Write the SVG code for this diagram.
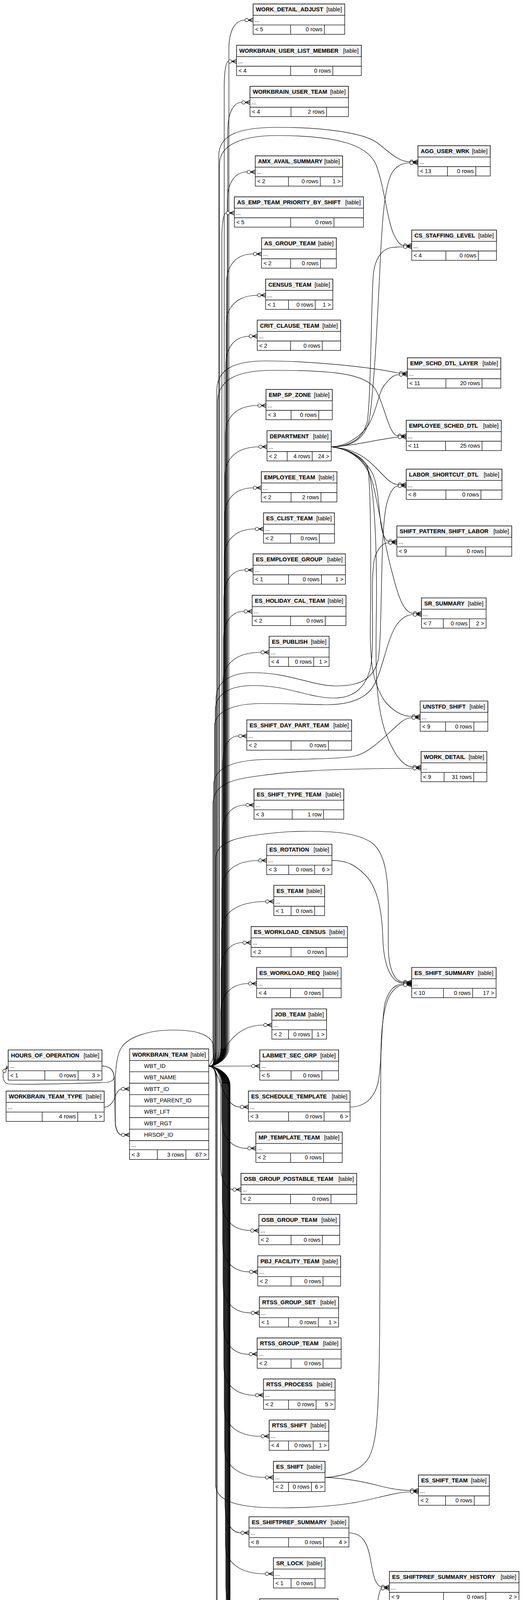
<svg xmlns="http://www.w3.org/2000/svg" width="1344" height="6052" viewBox="0 0 1344 6052">
<style>
.bx{fill:#fff;stroke:#000;stroke-width:1.3}
.hd{fill:#f4f4f4;stroke:#000;stroke-width:1.3}
.ln{fill:none;stroke:#000;stroke-width:1.3}
.e path{fill:none;stroke:#000;stroke-width:1.2}
.ci{fill:#fff;stroke:#000;stroke-width:1.2}
.cw{fill:none;stroke:#000;stroke-width:1.6}
text{font-family:"Liberation Sans",Arial,Helvetica,sans-serif;font-size:14.6px;fill:#000}
.n{font-weight:bold}
.r{text-anchor:end}
</style>
<defs>
<g id="cf"><path class="cw" d="M-12,0L0,-5M-12,0L0,0M-12,0L0,5"/><circle class="ci" cx="-16.5" cy="0" r="4.3"/></g>
<g id="tee"><path d="M-3,-5.5V5.5" stroke="#000" stroke-width="2.6"/><circle class="ci" cx="-10" cy="0" r="4"/></g>
</defs>
<rect width="1344" height="6052" fill="#fff"/>
<g id="connectors" class="e">
<path d="M534.5,2729.5C552,2729.5 565,2712 565,2680L565,2593C565,2548 590,2518 636,2518"/>
<path d="M534.5,2729.5C552,2729.5 566,2712 566,2680L566,2488C566,2443 586,2413 622,2413"/>
<path d="M534.5,2729.5C552,2729.5 567,2712 567,2680L567,2383C567,2338 607,2308 680,2308"/>
<path d="M534.5,2729.5C552,2729.5 568,2712 568,2680L568,2278C568,2233 601,2203 662,2203"/>
<path d="M534.5,2729.5C552,2729.5 569,2712 569,2680L569,2136C569,2091 590,2061 629,2061"/>
<path d="M534.5,2729.5C552,2729.5 570,2712 570,2680L570,1959C570,1914 584,1884 611,1884"/>
<path d="M534.5,2729.5C552,2729.5 571,2712 571,2680L571,1745C571,1700 605,1670 668,1670"/>
<path d="M534.5,2729.5C552,2729.5 572,2712 572,2680L572,1640C572,1595 590,1565 625,1565"/>
<path d="M534.5,2729.5C552,2729.5 573,2712 573,2680L573,1534C573,1489 592,1459 627,1459"/>
<path d="M534.5,2729.5C552,2729.5 574,2712 574,2680L574,1429C574,1384 602,1354 654,1354"/>
<path d="M534.5,2729.5C552,2729.5 575,2712 575,2680L575,1324C575,1279 601,1249 648,1249"/>
<path d="M534.5,2729.5C552,2729.5 576,2712 576,2680L576,1219C576,1174 606,1144 663,1144"/>
<path d="M534.5,2729.5C552,2729.5 577,2712 577,2680L577,1113C577,1068 606,1038 660,1038"/>
<path d="M534.5,2729.5C552,2729.5 578,2712 578,2680L578,936C578,891 599,861 638,861"/>
<path d="M534.5,2729.5C552,2729.5 579,2712 579,2680L579,831C579,786 607,756 659,756"/>
<path d="M534.5,2729.5C552,2729.5 580,2712 580,2680L580,725C580,680 604,650 649,650"/>
<path d="M534.5,2729.5C552,2729.5 568,2712 568,2680L568,605C568,575 572,545 579,545"/>
<path d="M534.5,2729.5C552,2729.5 582,2712 582,2680L582,515C582,470 600,440 633,440"/>
<path d="M534.5,2729.5C552,2729.5 583,2712 583,2680L583,337C583,292 596,262 619,262"/>
<path d="M534.5,2729.5C552,2729.5 574,2712 574,2680L574,222C574,187 578,157 585,157"/>
<path d="M534.5,2729.5C552,2729.5 586,2712 586,2680L586,126C586,81 600,51.5 627,51.5"/>
<path d="M534.5,2729.5C570,2729.5 575,2624 675,2624"/>
<path d="M534.5,2729.5L644,2729"/>
<path d="M534.5,2729.5C565,2729.5 565,2834 615,2834"/>
<path d="M534.5,2729.5C552,2729.5 568,2747 568,2779L568,2865C568,2910 591,2940 634,2940"/>
<path d="M534.5,2729.5C552,2729.5 565,2747 565,2779L565,2985C565,3015 576,3045 596,3045"/>
<path d="M534.5,2729.5C552,2729.5 569,2747 569,2779L569,3075C569,3120 594,3150 642,3150"/>
<path d="M534.5,2729.5C552,2729.5 570,2747 570,2779L570,3181C570,3226 594,3256 639,3256"/>
<path d="M534.5,2729.5C552,2729.5 571,2747 571,2779L571,3286C571,3331 596,3361 643,3361"/>
<path d="M534.5,2729.5C552,2729.5 572,2747 572,2779L572,3392C572,3437 595,3467 637,3467"/>
<path d="M534.5,2729.5C552,2729.5 573,2747 573,2779L573,3497C573,3542 601,3572 654,3572"/>
<path d="M534.5,2729.5C552,2729.5 574,2747 574,2779L574,3602C574,3647 607,3677 668,3677"/>
<path d="M534.5,2729.5C552,2729.5 575,2747 575,2779L575,3707C575,3752 611,3782 679,3782"/>
<path d="M534.5,2729.5C552,2729.5 576,2747 576,2779L576,3849C576,3894 590,3924 617,3924"/>
<path d="M534.5,2729.5C552,2729.5 577,2747 577,2779L577,3954C577,3999 613,4029 679,4029"/>
<path d="M534.5,2729.5C552,2729.5 578,2747 578,2779L578,4059C578,4104 601,4134 644,4134"/>
<path d="M534.5,2729.5C552,2729.5 579,2747 579,2779L579,4201C579,4246 600,4276 639,4276"/>
<path d="M534.5,2729.5C552,2729.5 580,2747 580,2779L580,4306C580,4351 606,4381 655,4381"/>
<path d="M534.5,2729.5C552,2729.5 581,2747 581,2779L581,4411C581,4456 604,4486 647,4486"/>
<path d="M534.5,2729.5C552,2729.5 582,2747 582,2779L582,4517C582,4562 607,4592 654,4592"/>
<path d="M534.5,2729.5C552,2729.5 583,2747 583,2779L583,4622C583,4667 600,4697 632,4697"/>
<path d="M534.5,2729.5C552,2729.5 584,2747 584,2779L584,4727C584,4772 612,4802 663,4802"/>
<path d="M534.5,2729.5C552,2729.5 585,2747 585,2779L585,4833C585,4878 610,4908 657,4908"/>
<path d="M534.5,2729.5C552,2729.5 588,2747 588,2779L588,4963C588,4990 596,5013 612,5013"/>
<path d="M534.5,2729.5C552,2729.5 586,2747 586,2779L586,5044C586,5089 610,5119 655,5119"/>
<path d="M534.5,2729.5C552,2729.5 586.5,2747 586.5,2779L586.5,5149C586.5,5194 606,5224 642,5224"/>
<path d="M534.5,2729.5C552,2729.5 587,2747 587,2779L587,5269C587,5304 597,5329 615,5329"/>
<path d="M534.5,2729.5C552,2729.5 587.5,2747 587.5,2779L587.5,5395C587.5,5440 604,5470 636,5470"/>
<path d="M534.5,2729.5C552,2729.5 588,2747 588,2779L588,5501C588,5546 602,5576 628,5576"/>
<path d="M534.5,2729.5C552,2729.5 588.5,2747 588.5,2779L588.5,5606C588.5,5651 601,5681 623,5681"/>
<path d="M534.5,2729.5C552,2729.5 589,2747 589,2779L589,5711C589,5756 605,5786 634,5786"/>
<path d="M534.5,2729.5C552,2729.5 584,2747 584,2779L584,5900C584,5930 590,5955.5 599,5955.5"/>
<path d="M534.5,2729.5C552,2729.5 560,2712 560,2680L560,400C560,350 600,326 710,326C830,326 930,340 965,365C1000,392 1020,414 1049,414"/>
<path d="M534.5,2729.5C552,2729.5 562,2712 562,2680L562,420C562,370 620,347 710,347C860,347 940,370 962,420C985,480 990,560 1008,600C1018,620 1025,628.5 1033,628.5"/>
<path d="M534.5,2729.5C552,2729.5 555,2712 555,2680L555,1000C555,945 600,924 680,924C800,924 950,940 1022,955.5"/>
<path d="M534.5,2729.5C552,2729.5 557,2712 557,2680L557,1030C557,970 610,948 700,948C860,948 935,958 960,995C985,1035 995,1115.5 1019,1115.5"/>
<path d="M534.5,2729.5C552,2729.5 553,2712 553,2680L553,1790C553,1745 590,1722 648,1722C740,1722 800,1756 860,1756C920,1756 955,1740 968,1690C980,1620 972,1360 990,1290C998,1260 1008,1244 1019,1244"/>
<path d="M534.5,2729.5C552,2729.5 551,2712 551,2680L551,1820C551,1775 590,1755 648,1755C740,1755 790,1787 856,1787C905,1787 940,1760 950,1700C960,1620 945,1460 962,1420C972,1398 982,1389.5 995,1389.5"/>
<path d="M534.5,2729.5C552,2729.5 549,2712 549,2680L549,1860C549,1820 600,1801 671,1801C740,1801 800,1804 837,1804C880,1804 925,1795 950,1765C978,1730 988,1640 1015,1600C1030,1580 1043,1573.5 1058,1573.5"/>
<path d="M534.5,2729.5C552,2729.5 547,2712 547,2680L547,2010C547,1965 600,1944 695,1944C800,1944 880,1942 910,1935C950,1925 990,1880 1025,1850C1035,1841 1045,1837.5 1054.6,1837.5"/>
<path d="M534.5,2729.5C552,2729.5 545,2712 545,2680L545,2060C545,2010 590,1996 650,1988C720,1978 800,1968 1057,1967"/>
<path d="M534.5,2729.5C552,2729.5 552,2712 552,2680L552,2200C552,2155 600,2139 742,2129C850,2125 920,2132 955,2160C990,2190 994,2260 994,2330L994,2420C994,2480 1010,2514 1033,2514"/>
<path d="M534.5,2729.5C552,2729.5 552,2747 552,2779L552,3800C552,3840 600,3855 671,3859C750,3862 837,3858 900,3848C960,3838 1010,3820 1050.3,3819"/>
<path d="M534.5,2729.5C552,2729.5 554,2747 554,2779L554,4140C554,4180 600,4195 742,4202C840,4206 925,4200 950,4175C968,4150 962,4090 976,4066"/>
<path d="M534.5,2729.5C552,2729.5 556,2747 556,2779L556,5340C556,5380 600,5398 700,5403C800,5406 900,5400 940,5415C980,5430 995,5490 1005,5540C1012,5575 1025,5590 1041,5590"/>
<path d="M848,1143.8C905,1144 938,1120 946,1070C958,990 966,820 972,700C978,560 985,470 1005,440C1018,422 1032,417 1049,417"/>
<path d="M848,1143.8C900,1144 930,1120 940,1080C950,1020 950,760 956,700C960,665 975,640 1000,634C1012,632 1022,632 1033,632"/>
<path d="M848,1143.8C890,1144 930,1110 945,1085C965,1050 970,1000 985,985C1000,965 1010,959 1022,959"/>
<path d="M848,1143.8C920,1140 960,1125 1019,1119"/>
<path d="M848,1143.8C900,1148 930,1165 960,1195C985,1220 1000,1240.5 1019,1240.5"/>
<path d="M848,1143.8C900,1150 935,1175 955,1215C972,1255 970,1340 980,1365C985,1378 990,1386 995,1386"/>
<path d="M848,1143.8C905,1150 940,1185 955,1240C970,1300 985,1400 1005,1470C1020,1530 1035,1570 1058,1570"/>
<path d="M848,1143.8C900,1150 935,1175 942,1200C950,1250 950,1500 948,1600C947,1700 955,1750 985,1795C1010,1825 1035,1834 1054.6,1834"/>
<path d="M848,1143.8C900,1150 935,1180 945,1210C965,1300 965,1500 963,1600C962,1700 960,1790 985,1870C1005,1925 1030,1963.5 1057,1963.5"/>
<path d="M849.6,2202.7C890,2203 910,2215 935,2240C965,2270 978,2330 980,2400C982,2470 1000,2516.5 1033,2516.5"/>
<path d="M896.2,2834C930,2834 958,2815 968,2770C978,2720 975,2630 985,2570C995,2535 1010,2519 1033,2519"/>
<path d="M832,3782.3C880,3780 925,3765 945,3730C965,3690 970,3620 972,3400L975,2700C976,2620 985,2560 1005,2538C1015,2527 1022,2521.5 1033,2521.5"/>
<path d="M832,3782.3C890,3784 940,3795 980,3806C1010,3813 1030,3815.5 1050.3,3815.5"/>
<path d="M893.3,3924C925,3925 940,3945 948,3990C955,4030 960,4058 975.8,4062.5"/>
<path d="M884.3,5786.3C920,5786 950,5770 970,5700C990,5640 1005,5600 1041.3,5593.5"/>
<path d="M520,5926.3L599.4,5926.3"/>
<path d="M266.6,2834.5C285,2834 292,2815 298,2800C303,2791 306,2788 311.2,2787.7"/>
<path d="M261,2729C280,2729 290,2738 292,2755C294,2775 294,2850 295,2870C296,2890 302,2905 311.2,2905.3"/>
<path d="M261,2729C280,2729 290,2738 292,2755C293,2765 285,2770 271,2771C200,2774 60,2777 22,2775C8,2773 6,2756 9,2745"/>
<path d="M534.5,2729.5C550,2710 552,2680 540,2662C520,2640 480,2637 440,2637C380,2637 330,2655 312,2680C298,2700 295,2740 295,2780L295,2870C295,2890 302,2905 311.2,2905.3"/>
<path class="cw" d="M14.5,2737.5L17.5,2727.5M14.5,2737.5L21,2729.5M14.5,2737.5L23,2733"/>
<circle class="ci" cx="11.5" cy="2741.5" r="4.3"/>
<use href="#cf" x="648" y="51.5"/>
<use href="#cf" x="605.5" y="157.3"/>
<use href="#cf" x="640" y="262.3"/>
<use href="#cf" x="653.5" y="440.3"/>
<use href="#cf" x="600" y="545.3"/>
<use href="#cf" x="669.5" y="650.3"/>
<use href="#cf" x="680" y="755.8"/>
<use href="#cf" x="658.5" y="860.8"/>
<use href="#cf" x="681" y="1038.3"/>
<use href="#cf" x="683.5" y="1143.8"/>
<use href="#cf" x="669" y="1248.8"/>
<use href="#cf" x="674.5" y="1354.3"/>
<use href="#cf" x="648" y="1459.3"/>
<use href="#cf" x="645.6" y="1565.3"/>
<use href="#cf" x="689" y="1670"/>
<use href="#cf" x="631.8" y="1884.3"/>
<use href="#cf" x="650.3" y="2060.9"/>
<use href="#cf" x="682.6" y="2202.7"/>
<use href="#cf" x="701" y="2307.8"/>
<use href="#cf" x="642.7" y="2413.3"/>
<use href="#cf" x="657" y="2517.9"/>
<use href="#cf" x="696" y="2624"/>
<use href="#cf" x="665" y="2729"/>
<use href="#cf" x="636" y="2834"/>
<use href="#cf" x="655" y="2939.7"/>
<use href="#cf" x="617" y="3045.3"/>
<use href="#cf" x="662.6" y="3150.3"/>
<use href="#cf" x="659.8" y="3256"/>
<use href="#cf" x="664" y="3361"/>
<use href="#cf" x="658.4" y="3466.6"/>
<use href="#cf" x="674.5" y="3571.6"/>
<use href="#cf" x="689.2" y="3676.7"/>
<use href="#cf" x="700" y="3782.3"/>
<use href="#cf" x="637.5" y="3924"/>
<use href="#cf" x="700" y="4029"/>
<use href="#cf" x="665" y="4134.2"/>
<use href="#cf" x="659.8" y="4276"/>
<use href="#cf" x="676" y="4380.9"/>
<use href="#cf" x="668" y="4486.5"/>
<use href="#cf" x="674.5" y="4592.2"/>
<use href="#cf" x="653" y="4697.3"/>
<use href="#cf" x="684" y="4802.3"/>
<use href="#cf" x="678.3" y="4908.3"/>
<use href="#cf" x="633.2" y="5013.5"/>
<use href="#cf" x="676" y="5119"/>
<use href="#cf" x="662.6" y="5223.7"/>
<use href="#cf" x="636" y="5329.3"/>
<use href="#cf" x="657" y="5470"/>
<use href="#cf" x="649.4" y="5576.3"/>
<use href="#tee" x="637" y="5681.3"/>
<use href="#tee" x="648" y="5786.3"/>
<use href="#cf" x="620.4" y="5926.2"/>
<use href="#cf" x="620.4" y="5955.5"/>
<use href="#cf" x="331.7" y="2787.7"/>
<use href="#cf" x="331.7" y="2905.3"/>
<use href="#cf" x="1070" y="414"/>
<use href="#cf" x="1070" y="417"/>
<use href="#cf" x="1054" y="628.5"/>
<use href="#cf" x="1054" y="632"/>
<use href="#cf" x="1043" y="955.5"/>
<use href="#cf" x="1043" y="959"/>
<use href="#cf" x="1040" y="1115.5"/>
<use href="#cf" x="1040" y="1119"/>
<use href="#cf" x="1040" y="1240.5"/>
<use href="#cf" x="1040" y="1244"/>
<use href="#cf" x="1016" y="1386"/>
<use href="#cf" x="1016" y="1389.5"/>
<use href="#cf" x="1079" y="1570"/>
<use href="#cf" x="1079" y="1573.5"/>
<use href="#cf" x="1075.6" y="1834"/>
<use href="#cf" x="1075.6" y="1837.5"/>
<use href="#cf" x="1078" y="1963.5"/>
<use href="#cf" x="1078" y="1967"/>
<use href="#cf" x="1054" y="2514"/>
<use href="#cf" x="1054" y="2516.5"/>
<use href="#cf" x="1054" y="2519"/>
<use href="#cf" x="1054" y="2521.5"/>
<use href="#cf" x="1071.3" y="3815.5"/>
<use href="#cf" x="1071.3" y="3819"/>
<use href="#cf" x="996.8" y="4062.5"/>
<use href="#cf" x="996.8" y="4066"/>
<use href="#cf" x="1062.3" y="5590"/>
<use href="#cf" x="1062.3" y="5593.5"/>
</g>
<g id="nodes">
<g id="WORK_DETAIL_ADJUST" transform="translate(648,10.3)"><rect class="bx" width="234.5" height="77.5"/><rect class="hd" width="234.5" height="29"/><path class="ln" d="M0,53.5H234.5M96,53.5V77.5M182.5,53.5V77.5"/><text class="n" x="7" y="19">WORK_DETAIL_ADJUST</text><text class="r" x="227.5" y="19">[table]</text><text x="4" y="46">...</text><text x="5" y="70">&lt; 5</text><text class="r" x="177.5" y="70">0 rows</text></g>
<g id="WORKBRAIN_USER_LIST_MEMBER" transform="translate(605.5,116)"><rect class="bx" width="319.5" height="77.5"/><rect class="hd" width="319.5" height="29"/><path class="ln" d="M0,53.5H319.5M138.5,53.5V77.5M246.5,53.5V77.5"/><text class="n" x="7" y="19">WORKBRAIN_USER_LIST_MEMBER</text><text class="r" x="312.5" y="19">[table]</text><text x="4" y="46">...</text><text x="5" y="70">&lt; 4</text><text class="r" x="241.5" y="70">0 rows</text></g>
<g id="WORKBRAIN_USER_TEAM" transform="translate(640,221)"><rect class="bx" width="252" height="77.5"/><rect class="hd" width="252" height="29"/><path class="ln" d="M0,53.5H252M105,53.5V77.5M196,53.5V77.5"/><text class="n" x="7" y="19">WORKBRAIN_USER_TEAM</text><text class="r" x="245" y="19">[table]</text><text x="4" y="46">...</text><text x="5" y="70">&lt; 4</text><text class="r" x="191" y="70">2 rows</text></g>
<g id="AMX_AVAIL_SUMMARY" transform="translate(653.5,399)"><rect class="bx" width="223.5" height="77.5"/><rect class="hd" width="223.5" height="29"/><path class="ln" d="M0,53.5H223.5M85,53.5V77.5M166.5,53.5V77.5"/><text class="n" x="7" y="19">AMX_AVAIL_SUMMARY</text><text class="r" x="216.5" y="19">[table]</text><text x="4" y="46">...</text><text x="5" y="70">&lt; 2</text><text class="r" x="161.5" y="70">0 rows</text><text class="r" x="218.5" y="70">1 &gt;</text></g>
<g id="AS_EMP_TEAM_PRIORITY_BY_SHIFT" transform="translate(600,504)"><rect class="bx" width="330.5" height="77.5"/><rect class="hd" width="330.5" height="29"/><path class="ln" d="M0,53.5H330.5M144,53.5V77.5M255,53.5V77.5"/><text class="n" x="7" y="19">AS_EMP_TEAM_PRIORITY_BY_SHIFT</text><text class="r" x="323.5" y="19">[table]</text><text x="4" y="46">...</text><text x="5" y="70">&lt; 5</text><text class="r" x="250" y="70">0 rows</text></g>
<g id="AS_GROUP_TEAM" transform="translate(669.5,609)"><rect class="bx" width="191.5" height="77.5"/><rect class="hd" width="191.5" height="29"/><path class="ln" d="M0,53.5H191.5M74.5,53.5V77.5M151,53.5V77.5"/><text class="n" x="7" y="19">AS_GROUP_TEAM</text><text class="r" x="184.5" y="19">[table]</text><text x="4" y="46">...</text><text x="5" y="70">&lt; 2</text><text class="r" x="146" y="70">0 rows</text></g>
<g id="CENSUS_TEAM" transform="translate(680,714.5)"><rect class="bx" width="172" height="77.5"/><rect class="hd" width="172" height="29"/><path class="ln" d="M0,53.5H172M58.6,53.5V77.5M127,53.5V77.5"/><text class="n" x="7" y="19">CENSUS_TEAM</text><text class="r" x="165" y="19">[table]</text><text x="4" y="46">...</text><text x="5" y="70">&lt; 1</text><text class="r" x="122" y="70">0 rows</text><text class="r" x="167" y="70">1 &gt;</text></g>
<g id="CRIT_CLAUSE_TEAM" transform="translate(658.5,819.5)"><rect class="bx" width="213.5" height="77.5"/><rect class="hd" width="213.5" height="29"/><path class="ln" d="M0,53.5H213.5M85.3,53.5V77.5M166.5,53.5V77.5"/><text class="n" x="7" y="19">CRIT_CLAUSE_TEAM</text><text class="r" x="206.5" y="19">[table]</text><text x="4" y="46">...</text><text x="5" y="70">&lt; 2</text><text class="r" x="161.5" y="70">0 rows</text></g>
<g id="EMP_SP_ZONE" transform="translate(681,997)"><rect class="bx" width="169.6" height="77.5"/><rect class="hd" width="169.6" height="29"/><path class="ln" d="M0,53.5H169.6M64.2,53.5V77.5M135,53.5V77.5"/><text class="n" x="7" y="19">EMP_SP_ZONE</text><text class="r" x="162.6" y="19">[table]</text><text x="4" y="46">...</text><text x="5" y="70">&lt; 3</text><text class="r" x="130" y="70">0 rows</text></g>
<g id="DEPARTMENT" transform="translate(683.5,1102.5)"><rect class="bx" width="164.5" height="77.5"/><rect class="hd" width="164.5" height="29"/><path class="ln" d="M0,53.5H164.5M51.8,53.5V77.5M115.8,53.5V77.5"/><text class="n" x="7" y="19">DEPARTMENT</text><text class="r" x="157.5" y="19">[table]</text><text x="4" y="46">...</text><text x="5" y="70">&lt; 2</text><text class="r" x="110.8" y="70">4 rows</text><text class="r" x="159.5" y="70">24 &gt;</text></g>
<g id="EMPLOYEE_TEAM" transform="translate(669,1207.5)"><rect class="bx" width="193.5" height="77.5"/><rect class="hd" width="193.5" height="29"/><path class="ln" d="M0,53.5H193.5M76.2,53.5V77.5M152.6,53.5V77.5"/><text class="n" x="7" y="19">EMPLOYEE_TEAM</text><text class="r" x="186.5" y="19">[table]</text><text x="4" y="46">...</text><text x="5" y="70">&lt; 2</text><text class="r" x="147.6" y="70">2 rows</text></g>
<g id="ES_CLIST_TEAM" transform="translate(674.5,1313)"><rect class="bx" width="181.8" height="77.5"/><rect class="hd" width="181.8" height="29"/><path class="ln" d="M0,53.5H181.8M69.3,53.5V77.5M142.9,53.5V77.5"/><text class="n" x="7" y="19">ES_CLIST_TEAM</text><text class="r" x="174.8" y="19">[table]</text><text x="4" y="46">...</text><text x="5" y="70">&lt; 2</text><text class="r" x="137.9" y="70">0 rows</text></g>
<g id="ES_EMPLOYEE_GROUP" transform="translate(648,1418)"><rect class="bx" width="236.3" height="77.5"/><rect class="hd" width="236.3" height="29"/><path class="ln" d="M0,53.5H236.3M90.6,53.5V77.5M175,53.5V77.5"/><text class="n" x="7" y="19">ES_EMPLOYEE_GROUP</text><text class="r" x="229.3" y="19">[table]</text><text x="4" y="46">...</text><text x="5" y="70">&lt; 1</text><text class="r" x="170" y="70">0 rows</text><text class="r" x="231.3" y="70">1 &gt;</text></g>
<g id="ES_HOLIDAY_CAL_TEAM" transform="translate(645.6,1524)"><rect class="bx" width="240" height="77.5"/><rect class="hd" width="240" height="29"/><path class="ln" d="M0,53.5H240M98.2,53.5V77.5M187,53.5V77.5"/><text class="n" x="7" y="19">ES_HOLIDAY_CAL_TEAM</text><text class="r" x="233" y="19">[table]</text><text x="4" y="46">...</text><text x="5" y="70">&lt; 2</text><text class="r" x="182" y="70">0 rows</text></g>
<g id="ES_PUBLISH" transform="translate(689,1628.7)"><rect class="bx" width="153.5" height="77.5"/><rect class="hd" width="153.5" height="29"/><path class="ln" d="M0,53.5H153.5M49.6,53.5V77.5M114,53.5V77.5"/><text class="n" x="7" y="19">ES_PUBLISH</text><text class="r" x="146.5" y="19">[table]</text><text x="4" y="46">...</text><text x="5" y="70">&lt; 4</text><text class="r" x="109" y="70">0 rows</text><text class="r" x="148.5" y="70">1 &gt;</text></g>
<g id="ES_SHIFT_DAY_PART_TEAM" transform="translate(631.8,1843)"><rect class="bx" width="268.2" height="77.5"/><rect class="hd" width="268.2" height="29"/><path class="ln" d="M0,53.5H268.2M113.4,53.5V77.5M208.8,53.5V77.5"/><text class="n" x="7" y="19">ES_SHIFT_DAY_PART_TEAM</text><text class="r" x="261.2" y="19">[table]</text><text x="4" y="46">...</text><text x="5" y="70">&lt; 2</text><text class="r" x="203.8" y="70">0 rows</text></g>
<g id="ES_SHIFT_TYPE_TEAM" transform="translate(650.3,2019.6)"><rect class="bx" width="229.7" height="77.5"/><rect class="hd" width="229.7" height="29"/><path class="ln" d="M0,53.5H229.7M97.7,53.5V77.5M178,53.5V77.5"/><text class="n" x="7" y="19">ES_SHIFT_TYPE_TEAM</text><text class="r" x="222.7" y="19">[table]</text><text x="4" y="46">...</text><text x="5" y="70">&lt; 3</text><text class="r" x="173" y="70">1 row</text></g>
<g id="ES_ROTATION" transform="translate(682.6,2161.4)"><rect class="bx" width="167" height="77.5"/><rect class="hd" width="167" height="29"/><path class="ln" d="M0,53.5H167M56.4,53.5V77.5M122.9,53.5V77.5"/><text class="n" x="7" y="19">ES_ROTATION</text><text class="r" x="160" y="19">[table]</text><text x="4" y="46">...</text><text x="5" y="70">&lt; 3</text><text class="r" x="117.9" y="70">0 rows</text><text class="r" x="162" y="70">6 &gt;</text></g>
<g id="ES_TEAM" transform="translate(701,2266.5)"><rect class="bx" width="130" height="77.5"/><rect class="hd" width="130" height="29"/><path class="ln" d="M0,53.5H130M44.2,53.5V77.5M104.5,53.5V77.5"/><text class="n" x="7" y="19">ES_TEAM</text><text class="r" x="123" y="19">[table]</text><text x="4" y="46">...</text><text x="5" y="70">&lt; 1</text><text class="r" x="99.5" y="70">0 rows</text></g>
<g id="ES_WORKLOAD_CENSUS" transform="translate(642.7,2372)"><rect class="bx" width="246.8" height="77.5"/><rect class="hd" width="246.8" height="29"/><path class="ln" d="M0,53.5H246.8M102.5,53.5V77.5M192.3,53.5V77.5"/><text class="n" x="7" y="19">ES_WORKLOAD_CENSUS</text><text class="r" x="239.8" y="19">[table]</text><text x="4" y="46">...</text><text x="5" y="70">&lt; 2</text><text class="r" x="187.3" y="70">0 rows</text></g>
<g id="ES_WORKLOAD_REQ" transform="translate(657,2476.6)"><rect class="bx" width="216.4" height="77.5"/><rect class="hd" width="216.4" height="29"/><path class="ln" d="M0,53.5H216.4M86.8,53.5V77.5M169.9,53.5V77.5"/><text class="n" x="7" y="19">ES_WORKLOAD_REQ</text><text class="r" x="209.4" y="19">[table]</text><text x="4" y="46">...</text><text x="5" y="70">&lt; 4</text><text class="r" x="164.9" y="70">0 rows</text></g>
<g id="JOB_TEAM" transform="translate(696,2582.7)"><rect class="bx" width="140" height="77.5"/><rect class="hd" width="140" height="29"/><path class="ln" d="M0,53.5H140M42.6,53.5V77.5M103,53.5V77.5"/><text class="n" x="7" y="19">JOB_TEAM</text><text class="r" x="133" y="19">[table]</text><text x="4" y="46">...</text><text x="5" y="70">&lt; 2</text><text class="r" x="98" y="70">0 rows</text><text class="r" x="135" y="70">1 &gt;</text></g>
<g id="LABMET_SEC_GRP" transform="translate(665,2687.7)"><rect class="bx" width="201.7" height="77.5"/><rect class="hd" width="201.7" height="29"/><path class="ln" d="M0,53.5H201.7M80.2,53.5V77.5M159,53.5V77.5"/><text class="n" x="7" y="19">LABMET_SEC_GRP</text><text class="r" x="194.7" y="19">[table]</text><text x="4" y="46">...</text><text x="5" y="70">&lt; 5</text><text class="r" x="154" y="70">0 rows</text></g>
<g id="ES_SCHEDULE_TEMPLATE" transform="translate(636,2792.8)"><rect class="bx" width="260.2" height="77.5"/><rect class="hd" width="260.2" height="29"/><path class="ln" d="M0,53.5H260.2M102.6,53.5V77.5M193.7,53.5V77.5"/><text class="n" x="7" y="19">ES_SCHEDULE_TEMPLATE</text><text class="r" x="253.2" y="19">[table]</text><text x="4" y="46">...</text><text x="5" y="70">&lt; 3</text><text class="r" x="188.7" y="70">0 rows</text><text class="r" x="255.2" y="70">6 &gt;</text></g>
<g id="MP_TEMPLATE_TEAM" transform="translate(655,2898.4)"><rect class="bx" width="221.2" height="77.5"/><rect class="hd" width="221.2" height="29"/><path class="ln" d="M0,53.5H221.2M88.8,53.5V77.5M173.3,53.5V77.5"/><text class="n" x="7" y="19">MP_TEMPLATE_TEAM</text><text class="r" x="214.2" y="19">[table]</text><text x="4" y="46">...</text><text x="5" y="70">&lt; 2</text><text class="r" x="168.3" y="70">0 rows</text></g>
<g id="OSB_GROUP_POSTABLE_TEAM" transform="translate(617,3004)"><rect class="bx" width="296.2" height="77.5"/><rect class="hd" width="296.2" height="29"/><path class="ln" d="M0,53.5H296.2M126.8,53.5V77.5M230.3,53.5V77.5"/><text class="n" x="7" y="19">OSB_GROUP_POSTABLE_TEAM</text><text class="r" x="289.2" y="19">[table]</text><text x="4" y="46">...</text><text x="5" y="70">&lt; 2</text><text class="r" x="225.3" y="70">0 rows</text></g>
<g id="OSB_GROUP_TEAM" transform="translate(662.6,3109)"><rect class="bx" width="207" height="77.5"/><rect class="hd" width="207" height="29"/><path class="ln" d="M0,53.5H207M82.6,53.5V77.5M162.8,53.5V77.5"/><text class="n" x="7" y="19">OSB_GROUP_TEAM</text><text class="r" x="200" y="19">[table]</text><text x="4" y="46">...</text><text x="5" y="70">&lt; 2</text><text class="r" x="157.8" y="70">0 rows</text></g>
<g id="PBJ_FACILITY_TEAM" transform="translate(659.8,3214.7)"><rect class="bx" width="212.2" height="77.5"/><rect class="hd" width="212.2" height="29"/><path class="ln" d="M0,53.5H212.2M85.4,53.5V77.5M167.1,53.5V77.5"/><text class="n" x="7" y="19">PBJ_FACILITY_TEAM</text><text class="r" x="205.2" y="19">[table]</text><text x="4" y="46">...</text><text x="5" y="70">&lt; 2</text><text class="r" x="162.1" y="70">0 rows</text></g>
<g id="RTSS_GROUP_SET" transform="translate(664,3319.8)"><rect class="bx" width="202.7" height="77.5"/><rect class="hd" width="202.7" height="29"/><path class="ln" d="M0,53.5H202.7M74.6,53.5V77.5M151,53.5V77.5"/><text class="n" x="7" y="19">RTSS_GROUP_SET</text><text class="r" x="195.7" y="19">[table]</text><text x="4" y="46">...</text><text x="5" y="70">&lt; 1</text><text class="r" x="146" y="70">0 rows</text><text class="r" x="197.7" y="70">1 &gt;</text></g>
<g id="RTSS_GROUP_TEAM" transform="translate(658.4,3425.3)"><rect class="bx" width="215" height="77.5"/><rect class="hd" width="215" height="29"/><path class="ln" d="M0,53.5H215M86.8,53.5V77.5M168.5,53.5V77.5"/><text class="n" x="7" y="19">RTSS_GROUP_TEAM</text><text class="r" x="208" y="19">[table]</text><text x="4" y="46">...</text><text x="5" y="70">&lt; 2</text><text class="r" x="163.5" y="70">0 rows</text></g>
<g id="RTSS_PROCESS" transform="translate(674.5,3530.3)"><rect class="bx" width="183.2" height="77.5"/><rect class="hd" width="183.2" height="29"/><path class="ln" d="M0,53.5H183.2M64.1,53.5V77.5M134.8,53.5V77.5"/><text class="n" x="7" y="19">RTSS_PROCESS</text><text class="r" x="176.2" y="19">[table]</text><text x="4" y="46">...</text><text x="5" y="70">&lt; 2</text><text class="r" x="129.8" y="70">0 rows</text><text class="r" x="178.2" y="70">5 &gt;</text></g>
<g id="RTSS_SHIFT" transform="translate(689.2,3635.4)"><rect class="bx" width="152.4" height="77.5"/><rect class="hd" width="152.4" height="29"/><path class="ln" d="M0,53.5H152.4M49.4,53.5V77.5M112.5,53.5V77.5"/><text class="n" x="7" y="19">RTSS_SHIFT</text><text class="r" x="145.4" y="19">[table]</text><text x="4" y="46">...</text><text x="5" y="70">&lt; 4</text><text class="r" x="107.5" y="70">0 rows</text><text class="r" x="147.4" y="70">1 &gt;</text></g>
<g id="ES_SHIFT" transform="translate(700,3741)"><rect class="bx" width="132" height="77.5"/><rect class="hd" width="132" height="29"/><path class="ln" d="M0,53.5H132M38.6,53.5V77.5M97.4,53.5V77.5"/><text class="n" x="7" y="19">ES_SHIFT</text><text class="r" x="125" y="19">[table]</text><text x="4" y="46">...</text><text x="5" y="70">&lt; 2</text><text class="r" x="92.4" y="70">0 rows</text><text class="r" x="127" y="70">6 &gt;</text></g>
<g id="ES_SHIFTPREF_SUMMARY" transform="translate(637.5,3882.8)"><rect class="bx" width="255.8" height="77.5"/><rect class="hd" width="255.8" height="29"/><path class="ln" d="M0,53.5H255.8M101.1,53.5V77.5M190.8,53.5V77.5"/><text class="n" x="7" y="19">ES_SHIFTPREF_SUMMARY</text><text class="r" x="248.8" y="19">[table]</text><text x="4" y="46">...</text><text x="5" y="70">&lt; 8</text><text class="r" x="185.8" y="70">0 rows</text><text class="r" x="250.8" y="70">4 &gt;</text></g>
<g id="SR_LOCK" transform="translate(700,3987.8)"><rect class="bx" width="132" height="77.5"/><rect class="hd" width="132" height="29"/><path class="ln" d="M0,53.5H132M45.2,53.5V77.5M106.5,53.5V77.5"/><text class="n" x="7" y="19">SR_LOCK</text><text class="r" x="125" y="19">[table]</text><text x="4" y="46">...</text><text x="5" y="70">&lt; 1</text><text class="r" x="101.5" y="70">0 rows</text></g>
<g id="SR_SHIFT_OFFSET" transform="translate(665,4092.9)"><rect class="bx" width="200.3" height="77.5"/><rect class="hd" width="200.3" height="29"/><path class="ln" d="M0,53.5H200.3M78.8,53.5V77.5M157.6,53.5V77.5"/><text class="n" x="7" y="19">SR_SHIFT_OFFSET</text><text class="r" x="193.3" y="19">[table]</text><text x="4" y="46">...</text><text x="5" y="70">&lt; 3</text><text class="r" x="152.6" y="70">0 rows</text></g>
<g id="SR_TEAM_PRIORITY" transform="translate(659.8,4234.7)"><rect class="bx" width="210.2" height="77.5"/><rect class="hd" width="210.2" height="29"/><path class="ln" d="M0,53.5H210.2M84,53.5V77.5M165.2,53.5V77.5"/><text class="n" x="7" y="19">SR_TEAM_PRIORITY</text><text class="r" x="203.2" y="19">[table]</text><text x="4" y="46">...</text><text x="5" y="70">&lt; 2</text><text class="r" x="160.2" y="70">0 rows</text></g>
<g id="ST_SKILL_TEAM" transform="translate(676,4339.6)"><rect class="bx" width="180.3" height="77.5"/><rect class="hd" width="180.3" height="29"/><path class="ln" d="M0,53.5H180.3M69.2,53.5V77.5M142.8,53.5V77.5"/><text class="n" x="7" y="19">ST_SKILL_TEAM</text><text class="r" x="173.3" y="19">[table]</text><text x="4" y="46">...</text><text x="5" y="70">&lt; 2</text><text class="r" x="137.8" y="70">0 rows</text></g>
<g id="ST_WBT_COURSE" transform="translate(668,4445.2)"><rect class="bx" width="194.5" height="77.5"/><rect class="hd" width="194.5" height="29"/><path class="ln" d="M0,53.5H194.5M75.8,53.5V77.5M153.6,53.5V77.5"/><text class="n" x="7" y="19">ST_WBT_COURSE</text><text class="r" x="187.5" y="19">[table]</text><text x="4" y="46">...</text><text x="5" y="70">&lt; 2</text><text class="r" x="148.6" y="70">0 rows</text></g>
<g id="TARGET_DETAIL" transform="translate(674.5,4550.9)"><rect class="bx" width="183.2" height="77.5"/><rect class="hd" width="183.2" height="29"/><path class="ln" d="M0,53.5H183.2M64.1,53.5V77.5M134.8,53.5V77.5"/><text class="n" x="7" y="19">TARGET_DETAIL</text><text class="r" x="176.2" y="19">[table]</text><text x="4" y="46">...</text><text x="5" y="70">&lt; 3</text><text class="r" x="129.8" y="70">0 rows</text><text class="r" x="178.2" y="70">2 &gt;</text></g>
<g id="TEAM_DAY_PART_SET" transform="translate(653,4656)"><rect class="bx" width="225.6" height="77.5"/><rect class="hd" width="225.6" height="29"/><path class="ln" d="M0,53.5H225.6M96.5,53.5V77.5M175.3,53.5V77.5"/><text class="n" x="7" y="19">TEAM_DAY_PART_SET</text><text class="r" x="218.6" y="19">[table]</text><text x="4" y="46">...</text><text x="5" y="70">&lt; 2</text><text class="r" x="170.3" y="70">1 row</text></g>
<g id="TEAM_RANGE" transform="translate(684,4761)"><rect class="bx" width="162.8" height="77.5"/><rect class="hd" width="162.8" height="29"/><path class="ln" d="M0,53.5H162.8M59.8,53.5V77.5M129.6,53.5V77.5"/><text class="n" x="7" y="19">TEAM_RANGE</text><text class="r" x="155.8" y="19">[table]</text><text x="4" y="46">...</text><text x="5" y="70">&lt; 3</text><text class="r" x="124.6" y="70">0 rows</text></g>
<g id="TEAM_SCHPRD" transform="translate(678.3,4867)"><rect class="bx" width="173.7" height="77.5"/><rect class="hd" width="173.7" height="29"/><path class="ln" d="M0,53.5H173.7M69.7,53.5V77.5M135.3,53.5V77.5"/><text class="n" x="7" y="19">TEAM_SCHPRD</text><text class="r" x="166.7" y="19">[table]</text><text x="4" y="46">...</text><text x="5" y="70">&lt; 2</text><text class="r" x="130.3" y="70">1 row</text></g>
<g id="TM_ACTITEM_ASSIGNMENT" transform="translate(633.2,4972.2)"><rect class="bx" width="265.3" height="77.5"/><rect class="hd" width="265.3" height="29"/><path class="ln" d="M0,53.5H265.3M105.4,53.5V77.5M197.8,53.5V77.5"/><text class="n" x="7" y="19">TM_ACTITEM_ASSIGNMENT</text><text class="r" x="258.3" y="19">[table]</text><text x="4" y="46">...</text><text x="5" y="70">&lt; 2</text><text class="r" x="192.8" y="70">0 rows</text><text class="r" x="260.3" y="70">2 &gt;</text></g>
<g id="TM_TASK_TEAM" transform="translate(676,5077.8)"><rect class="bx" width="180.3" height="77.5"/><rect class="hd" width="180.3" height="29"/><path class="ln" d="M0,53.5H180.3M69.2,53.5V77.5M142.8,53.5V77.5"/><text class="n" x="7" y="19">TM_TASK_TEAM</text><text class="r" x="173.3" y="19">[table]</text><text x="4" y="46">...</text><text x="5" y="70">&lt; 3</text><text class="r" x="137.8" y="70">0 rows</text></g>
<g id="TM_TGROUP_TEAM" transform="translate(662.6,5182.4)"><rect class="bx" width="207" height="77.5"/><rect class="hd" width="207" height="29"/><path class="ln" d="M0,53.5H207M82.6,53.5V77.5M162.8,53.5V77.5"/><text class="n" x="7" y="19">TM_TGROUP_TEAM</text><text class="r" x="200" y="19">[table]</text><text x="4" y="46">...</text><text x="5" y="70">&lt; 2</text><text class="r" x="157.8" y="70">0 rows</text></g>
<g id="UNIT_OF_SERVICE_DETAIL" transform="translate(636,5288)"><rect class="bx" width="258.7" height="77.5"/><rect class="hd" width="258.7" height="29"/><path class="ln" d="M0,53.5H258.7M107.8,53.5V77.5M201.3,53.5V77.5"/><text class="n" x="7" y="19">UNIT_OF_SERVICE_DETAIL</text><text class="r" x="251.7" y="19">[table]</text><text x="4" y="46">...</text><text x="5" y="70">&lt; 2</text><text class="r" x="196.3" y="70">0 rows</text></g>
<g id="WB_TEAM_MESSAGE" transform="translate(657,5428.7)"><rect class="bx" width="216.4" height="77.5"/><rect class="hd" width="216.4" height="29"/><path class="ln" d="M0,53.5H216.4M86.8,53.5V77.5M169.9,53.5V77.5"/><text class="n" x="7" y="19">WB_TEAM_MESSAGE</text><text class="r" x="209.4" y="19">[table]</text><text x="4" y="46">...</text><text x="5" y="70">&lt; 1</text><text class="r" x="164.9" y="70">0 rows</text></g>
<g id="WBI_FLAT_USER_TEAM" transform="translate(649.4,5535)"><rect class="bx" width="232" height="77.5"/><rect class="hd" width="232" height="29"/><path class="ln" d="M0,53.5H232M94.4,53.5V77.5M181.6,53.5V77.5"/><text class="n" x="7" y="19">WBI_FLAT_USER_TEAM</text><text class="r" x="225" y="19">[table]</text><text x="4" y="46">...</text><text x="5" y="70">&lt; 2</text><text class="r" x="176.6" y="70">0 rows</text></g>
<g id="WBI_TEAM_SCHPRD_DATE" transform="translate(637,5640)"><rect class="bx" width="257.7" height="77.5"/><rect class="hd" width="257.7" height="29"/><path class="ln" d="M0,53.5H257.7M108.2,53.5V77.5M200.3,53.5V77.5"/><text class="n" x="7" y="19">WBI_TEAM_SCHPRD_DATE</text><text class="r" x="250.7" y="19">[table]</text><text x="4" y="46">...</text><text x="5" y="70">&lt; 1</text><text class="r" x="195.3" y="70">0 rows</text></g>
<g id="SO_SCHEDULE_GROUP" transform="translate(648,5745)"><rect class="bx" width="236.3" height="77.5"/><rect class="hd" width="236.3" height="29"/><path class="ln" d="M0,53.5H236.3M90.6,53.5V77.5M167,53.5V77.5"/><text class="n" x="7" y="19">SO_SCHEDULE_GROUP</text><text class="r" x="229.3" y="19">[table]</text><text x="4" y="46">...</text><text x="5" y="70">&lt; 8</text><text class="r" x="162" y="70">1 row</text><text class="r" x="231.3" y="70">59 &gt;</text></g>
<g id="SO_TA_GROUP_TEAM" transform="translate(620.4,5851.2)"><rect fill="#fff" width="289.6" height="145.8"/><rect fill="#f4f4f4" width="289.6" height="31"/><path class="ln" d="M0,31H289.6M0,60.3H289.6M0,89.6H289.6M0,118.9H289.6M204.6,31V145.8M91.6,118.9V145.8"/><rect width="289.6" height="145.8" fill="none" stroke="#000" stroke-width="2.8"/><text class="n" x="9" y="20">SO_TA_GROUP_TEAM</text><text class="r" x="279" y="20.5">[table]</text><text x="28.5" y="50.7">TAGRPT_ID</text><text x="209" y="50.7">number[38]</text><text x="28.5" y="80">TAGRP_ID</text><text x="209" y="80">number[38]</text><text x="28.5" y="109.3">WBT_ID</text><text x="209" y="109.3">number[38]</text><text x="6" y="137.4">&lt; 2</text><text class="r" x="199.6" y="137.4">0 rows</text><text class="r" x="284" y="137.4">0 &gt;</text></g>
<g id="AGG_USER_WRK" transform="translate(1070,373)"><rect class="bx" width="185" height="77.5"/><rect class="hd" width="185" height="29"/><path class="ln" d="M0,53.5H185M75.5,53.5V77.5M148,53.5V77.5"/><text class="n" x="7" y="19">AGG_USER_WRK</text><text class="r" x="178" y="19">[table]</text><text x="4" y="46">...</text><text x="5" y="70">&lt; 13</text><text class="r" x="143" y="70">0 rows</text></g>
<g id="CS_STAFFING_LEVEL" transform="translate(1054,589)"><rect class="bx" width="217" height="77.5"/><rect class="hd" width="217" height="29"/><path class="ln" d="M0,53.5H217M87.5,53.5V77.5M170.5,53.5V77.5"/><text class="n" x="7" y="19">CS_STAFFING_LEVEL</text><text class="r" x="210" y="19">[table]</text><text x="4" y="46">...</text><text x="5" y="70">&lt; 4</text><text class="r" x="165.5" y="70">0 rows</text></g>
<g id="EMP_SCHD_DTL_LAYER" transform="translate(1043,916)"><rect class="bx" width="239" height="77.5"/><rect class="hd" width="239" height="29"/><path class="ln" d="M0,53.5H239M98.5,53.5V77.5M191,53.5V77.5"/><text class="n" x="7" y="19">EMP_SCHD_DTL_LAYER</text><text class="r" x="232" y="19">[table]</text><text x="4" y="46">...</text><text x="5" y="70">&lt; 11</text><text class="r" x="186" y="70">20 rows</text></g>
<g id="EMPLOYEE_SCHED_DTL" transform="translate(1040,1076)"><rect class="bx" width="243.4" height="77.5"/><rect class="hd" width="243.4" height="29"/><path class="ln" d="M0,53.5H243.4M100.6,53.5V77.5M194,53.5V77.5"/><text class="n" x="7" y="19">EMPLOYEE_SCHED_DTL</text><text class="r" x="236.4" y="19">[table]</text><text x="4" y="46">...</text><text x="5" y="70">&lt; 11</text><text class="r" x="189" y="70">25 rows</text></g>
<g id="LABOR_SHORTCUT_DTL" transform="translate(1040,1201)"><rect class="bx" width="245" height="77.5"/><rect class="hd" width="245" height="29"/><path class="ln" d="M0,53.5H245M101.5,53.5V77.5M191.2,53.5V77.5"/><text class="n" x="7" y="19">LABOR_SHORTCUT_DTL</text><text class="r" x="238" y="19">[table]</text><text x="4" y="46">...</text><text x="5" y="70">&lt; 8</text><text class="r" x="186.2" y="70">0 rows</text></g>
<g id="SHIFT_PATTERN_SHIFT_LABOR" transform="translate(1016,1346.4)"><rect class="bx" width="294" height="77.5"/><rect class="hd" width="294" height="29"/><path class="ln" d="M0,53.5H294M125.5,53.5V77.5M227,53.5V77.5"/><text class="n" x="7" y="19">SHIFT_PATTERN_SHIFT_LABOR</text><text class="r" x="287" y="19">[table]</text><text x="4" y="46">...</text><text x="5" y="70">&lt; 9</text><text class="r" x="222" y="70">0 rows</text></g>
<g id="SR_SUMMARY" transform="translate(1079,1530.6)"><rect class="bx" width="165.5" height="77.5"/><rect class="hd" width="165.5" height="29"/><path class="ln" d="M0,53.5H165.5M55.9,53.5V77.5M122.8,53.5V77.5"/><text class="n" x="7" y="19">SR_SUMMARY</text><text class="r" x="158.5" y="19">[table]</text><text x="4" y="46">...</text><text x="5" y="70">&lt; 7</text><text class="r" x="117.8" y="70">0 rows</text><text class="r" x="160.5" y="70">2 &gt;</text></g>
<g id="UNSTFD_SHIFT" transform="translate(1075.6,1794.6)"><rect class="bx" width="173.2" height="77.5"/><rect class="hd" width="173.2" height="29"/><path class="ln" d="M0,53.5H173.2M65,53.5V77.5M137.6,53.5V77.5"/><text class="n" x="7" y="19">UNSTFD_SHIFT</text><text class="r" x="166.2" y="19">[table]</text><text x="4" y="46">...</text><text x="5" y="70">&lt; 9</text><text class="r" x="132.6" y="70">0 rows</text></g>
<g id="WORK_DETAIL" transform="translate(1078,1923.8)"><rect class="bx" width="168.4" height="77.5"/><rect class="hd" width="168.4" height="29"/><path class="ln" d="M0,53.5H168.4M58.8,53.5V77.5M134.7,53.5V77.5"/><text class="n" x="7" y="19">WORK_DETAIL</text><text class="r" x="161.4" y="19">[table]</text><text x="4" y="46">...</text><text x="5" y="70">&lt; 9</text><text class="r" x="129.7" y="70">31 rows</text></g>
<g id="ES_SHIFT_SUMMARY" transform="translate(1054,2476.6)"><rect class="bx" width="216" height="77.5"/><rect class="hd" width="216" height="29"/><path class="ln" d="M0,53.5H216M81.4,53.5V77.5M155.9,53.5V77.5"/><text class="n" x="7" y="19">ES_SHIFT_SUMMARY</text><text class="r" x="209" y="19">[table]</text><text x="4" y="46">...</text><text x="5" y="70">&lt; 10</text><text class="r" x="150.9" y="70">0 rows</text><text class="r" x="211" y="70">17 &gt;</text></g>
<g id="ES_SHIFT_TEAM" transform="translate(1071.3,3776)"><rect class="bx" width="181.3" height="77.5"/><rect class="hd" width="181.3" height="29"/><path class="ln" d="M0,53.5H181.3M69.3,53.5V77.5M142.7,53.5V77.5"/><text class="n" x="7" y="19">ES_SHIFT_TEAM</text><text class="r" x="174.3" y="19">[table]</text><text x="4" y="46">...</text><text x="5" y="70">&lt; 2</text><text class="r" x="137.7" y="70">0 rows</text></g>
<g id="ES_SHIFTPREF_SUMMARY_HISTORY" transform="translate(996.8,4023)"><rect class="bx" width="331.7" height="77.5"/><rect class="hd" width="331.7" height="29"/><path class="ln" d="M0,53.5H331.7M138.6,53.5V77.5M246.8,53.5V77.5"/><text class="n" x="7" y="19">ES_SHIFTPREF_SUMMARY_HISTORY</text><text class="r" x="324.7" y="19">[table]</text><text x="4" y="46">...</text><text x="5" y="70">&lt; 9</text><text class="r" x="241.8" y="70">0 rows</text><text class="r" x="326.7" y="70">2 &gt;</text></g>
<g id="SO_EVENT_DETAIL" transform="translate(1062.3,5550.4)"><rect class="bx" width="199.7" height="77.5"/><rect class="hd" width="199.7" height="29"/><path class="ln" d="M0,53.5H199.7M73.1,53.5V77.5M148,53.5V77.5"/><text class="n" x="7" y="19">SO_EVENT_DETAIL</text><text class="r" x="192.7" y="19">[table]</text><text x="4" y="46">...</text><text x="5" y="70">&lt; 7</text><text class="r" x="143" y="70">0 rows</text><text class="r" x="194.7" y="70">1 &gt;</text></g>
<g id="HOURS_OF_OPERATION" transform="translate(21,2687.7)"><rect class="bx" width="240" height="77.5"/><rect class="hd" width="240" height="29"/><path class="ln" d="M0,53.5H240M93.7,53.5V77.5M179,53.5V77.5"/><text class="n" x="7" y="19">HOURS_OF_OPERATION</text><text class="r" x="233" y="19">[table]</text><text x="4" y="46">...</text><text x="5" y="70">&lt; 1</text><text class="r" x="174" y="70">0 rows</text><text class="r" x="235" y="70">3 &gt;</text></g>
<g id="WORKBRAIN_TEAM_TYPE" transform="translate(15.6,2793.3)"><rect class="bx" width="251" height="77.5"/><rect class="hd" width="251" height="29"/><path class="ln" d="M0,53.5H251M92.4,53.5V77.5M183.4,53.5V77.5"/><text class="n" x="7" y="19">WORKBRAIN_TEAM_TYPE</text><text class="r" x="244" y="19">[table]</text><text x="4" y="46">...</text><text class="r" x="178.4" y="70">4 rows</text><text class="r" x="246" y="70">1 &gt;</text></g>
<g id="WORKBRAIN_TEAM" transform="translate(331.7,2685.3)"><rect class="bx" width="202.7" height="283"/><rect class="hd" width="202.7" height="29.7"/><path class="ln" d="M0,58.4H202.7M0,87.7H202.7M0,117H202.7M0,146.4H202.7M0,175.7H202.7M0,205.4H202.7M0,234.7H202.7M0,258H202.7M71,258V283M144.2,258V283"/><text class="n" x="7" y="19.5">WORKBRAIN_TEAM</text><text class="r" x="195.7" y="19.5">[table]</text><text x="37" y="49">WBT_ID</text><text x="37" y="78">WBT_NAME</text><text x="37" y="107.4">WBTT_ID</text><text x="37" y="136.7">WBT_PARENT_ID</text><text x="37" y="166">WBT_LFT</text><text x="37" y="195.5">WBT_RGT</text><text x="37" y="225">HRSOP_ID</text><text x="4" y="251">...</text><text x="5" y="275.5">&lt; 3</text><text class="r" x="139.2" y="275.5">3 rows</text><text class="r" x="197.7" y="275.5">67 &gt;</text></g>
<g id="SO_TA_GROUP" transform="translate(347.8,5882.3)"><rect class="bx" width="172.2" height="107"/><rect class="hd" width="172.2" height="29.4"/><path class="ln" d="M0,58.7H172.2M0,82H172.2M53.2,82V107M124.2,82V107"/><text class="n" x="7" y="19.5">SO_TA_GROUP</text><text class="r" x="165.2" y="19.5">[table]</text><text x="38.8" y="49">TAGRP_ID</text><text x="4" y="75">...</text><text class="r" x="119.2" y="99.5">0 rows</text><text class="r" x="167.2" y="99.5">1 &gt;</text></g>
</g>
<text x="16.5" y="6037">Generated by SchemaSpy</text>
</svg>
